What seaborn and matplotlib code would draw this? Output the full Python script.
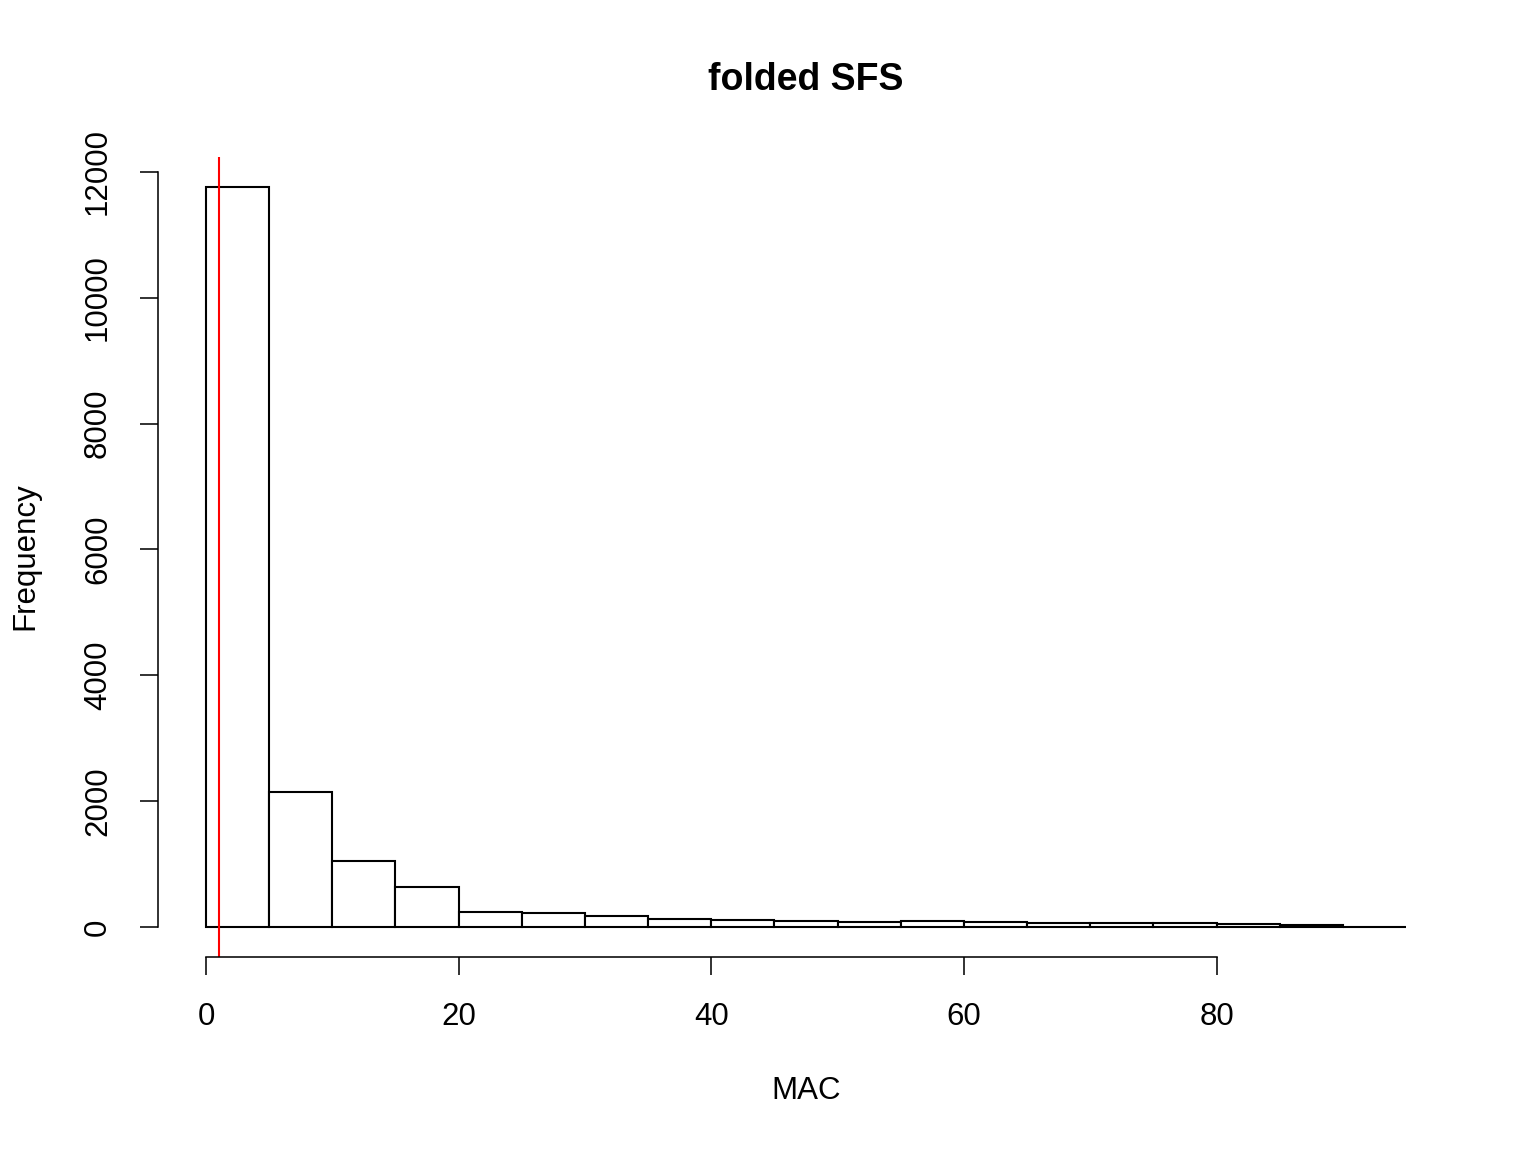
import numpy as np
import pandas as pd
import matplotlib
matplotlib.use("Agg")
import matplotlib.pyplot as plt
import seaborn as sns

# folded SFS: minor allele count histogram, bins of width 5
bin_edges = [0, 5, 10, 15, 20, 25, 30, 35, 40, 45, 50, 55, 60, 65, 70, 75, 80, 85, 90, 95]
counts = [11760, 2150, 1045, 641, 243, 222, 170, 127, 106, 95, 75, 90, 75, 64, 64, 58, 42, 27, 5]
mac_cutoff = 1
x_ticks = [0, 20, 40, 60, 80]
y_ticks = [0, 2000, 4000, 6000, 8000, 10000, 12000]

sns.set_style("white")
plt.rcParams['font.family'] = ['Liberation Sans', 'DejaVu Sans']
for k in ['text.color', 'axes.labelcolor', 'xtick.color', 'ytick.color']:
    plt.rcParams[k] = 'black'

edges = np.array(bin_edges)
df = pd.DataFrame({'MAC': edges[:-1] + np.diff(edges) / 2, 'n': counts})

fig = plt.figure(figsize=(10.24, 7.68), dpi=150)
ax = fig.add_axes([158/1536, 1 - 956.6/1152, (1454-158)/1536, (956.6-157.3)/1152])

sns.histplot(data=df, x='MAC', weights='n', bins=bin_edges, ax=ax,
             color='white', edgecolor='black', linewidth=1, alpha=1)
ax.axvline(mac_cutoff, color='red', linewidth=1)

ax.set_xlim(-0.04*95, 95*1.04)
ax.set_ylim(-0.04*max(counts), max(counts)*1.04)

for s in ['top', 'right']:
    ax.spines[s].set_visible(False)
ax.spines['left'].set_bounds(0, 12000)
ax.spines['bottom'].set_bounds(0, 80)
for s in ['left', 'bottom']:
    ax.spines[s].set_linewidth(0.75)
    ax.spines[s].set_color('black')

ax.set_xticks(x_ticks)
ax.set_yticks(y_ticks)
ax.set_yticklabels([str(v) for v in y_ticks], rotation=90, va='center')
ax.tick_params(axis='both', which='major', direction='out', length=8.6, width=0.75,
               color='black', labelcolor='black', labelsize=15, pad=13, left=True, bottom=True)

ax.set_xlabel('MAC', fontsize=15)
ax.xaxis.set_label_coords(0.5, (956.6-1091)/799.3)
ax.xaxis.label.set_va('center')
ax.set_ylabel('Frequency', fontsize=15)
ax.yaxis.set_label_coords((25-158)/1296, 0.501)
ax.yaxis.label.set_va('center')

ax.text(0.5, (956.6-80)/799.3, 'folded SFS', transform=ax.transAxes,
        ha='center', va='center', fontsize=18, fontweight='bold', color='black')

fig.savefig('out.png', dpi=150)
